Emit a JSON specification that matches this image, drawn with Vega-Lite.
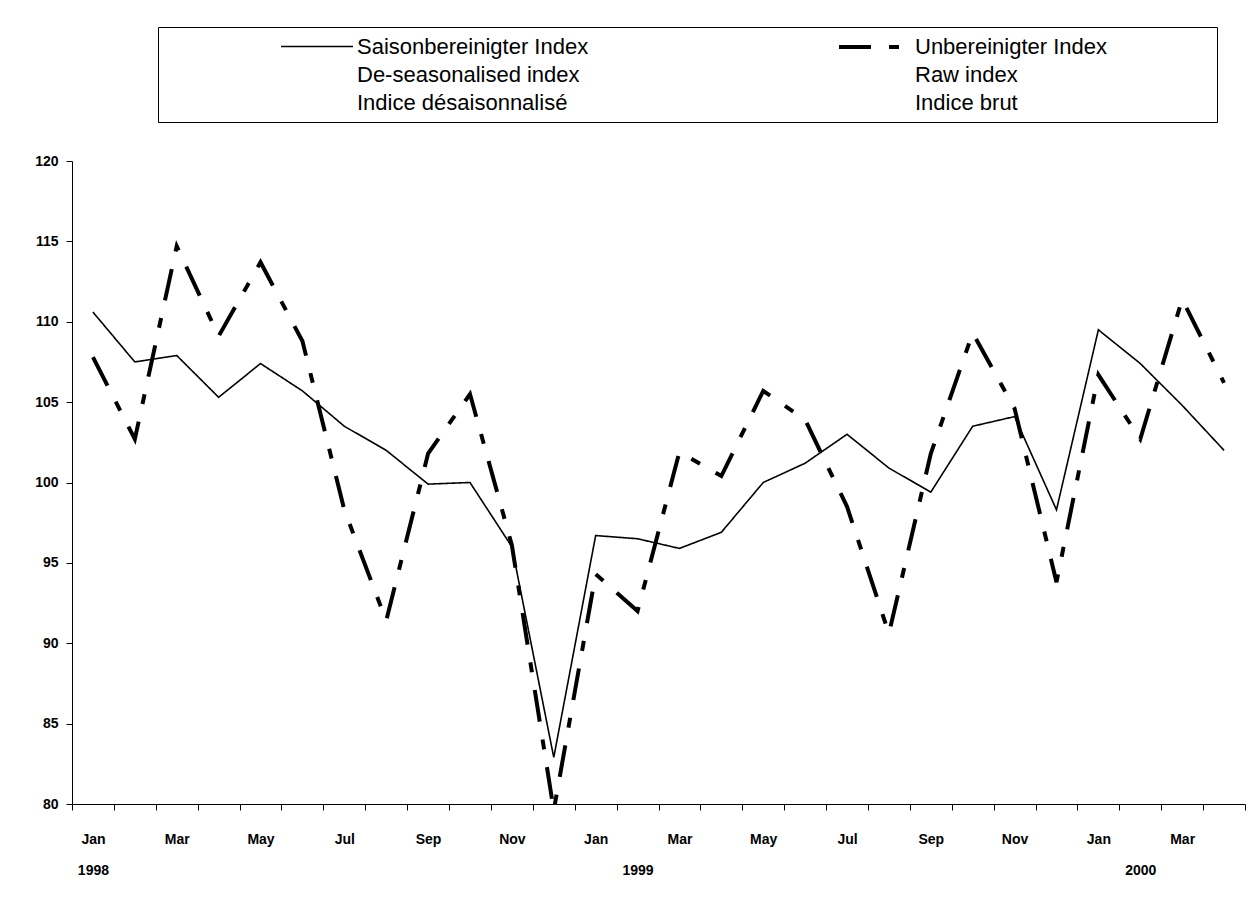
{
  "$schema": "https://vega.github.io/schema/vega-lite/v6.json",
  "width": 1173,
  "height": 643,
  "autosize": {"type": "none"},
  "padding": {"left": 72, "top": 161, "right": 11, "bottom": 104},
  "background": "white",
  "config": {
    "view": {"stroke": null},
    "font": "Liberation Sans",
    "style": {"guide-label": {"lineHeight": 28}}
  },
  "data": {
    "values": [
      {"month": "1998-01", "series": "Saisonbereinigter Index|De-seasonalised index|Indice désaisonnalisé", "value": 110.6},
      {"month": "1998-02", "series": "Saisonbereinigter Index|De-seasonalised index|Indice désaisonnalisé", "value": 107.5},
      {"month": "1998-03", "series": "Saisonbereinigter Index|De-seasonalised index|Indice désaisonnalisé", "value": 107.9},
      {"month": "1998-04", "series": "Saisonbereinigter Index|De-seasonalised index|Indice désaisonnalisé", "value": 105.3},
      {"month": "1998-05", "series": "Saisonbereinigter Index|De-seasonalised index|Indice désaisonnalisé", "value": 107.4},
      {"month": "1998-06", "series": "Saisonbereinigter Index|De-seasonalised index|Indice désaisonnalisé", "value": 105.7},
      {"month": "1998-07", "series": "Saisonbereinigter Index|De-seasonalised index|Indice désaisonnalisé", "value": 103.5},
      {"month": "1998-08", "series": "Saisonbereinigter Index|De-seasonalised index|Indice désaisonnalisé", "value": 102.0},
      {"month": "1998-09", "series": "Saisonbereinigter Index|De-seasonalised index|Indice désaisonnalisé", "value": 99.9},
      {"month": "1998-10", "series": "Saisonbereinigter Index|De-seasonalised index|Indice désaisonnalisé", "value": 100.0},
      {"month": "1998-11", "series": "Saisonbereinigter Index|De-seasonalised index|Indice désaisonnalisé", "value": 96.0},
      {"month": "1998-12", "series": "Saisonbereinigter Index|De-seasonalised index|Indice désaisonnalisé", "value": 82.9},
      {"month": "1999-01", "series": "Saisonbereinigter Index|De-seasonalised index|Indice désaisonnalisé", "value": 96.7},
      {"month": "1999-02", "series": "Saisonbereinigter Index|De-seasonalised index|Indice désaisonnalisé", "value": 96.5},
      {"month": "1999-03", "series": "Saisonbereinigter Index|De-seasonalised index|Indice désaisonnalisé", "value": 95.9},
      {"month": "1999-04", "series": "Saisonbereinigter Index|De-seasonalised index|Indice désaisonnalisé", "value": 96.9},
      {"month": "1999-05", "series": "Saisonbereinigter Index|De-seasonalised index|Indice désaisonnalisé", "value": 100.0},
      {"month": "1999-06", "series": "Saisonbereinigter Index|De-seasonalised index|Indice désaisonnalisé", "value": 101.2},
      {"month": "1999-07", "series": "Saisonbereinigter Index|De-seasonalised index|Indice désaisonnalisé", "value": 103.0},
      {"month": "1999-08", "series": "Saisonbereinigter Index|De-seasonalised index|Indice désaisonnalisé", "value": 100.9},
      {"month": "1999-09", "series": "Saisonbereinigter Index|De-seasonalised index|Indice désaisonnalisé", "value": 99.4},
      {"month": "1999-10", "series": "Saisonbereinigter Index|De-seasonalised index|Indice désaisonnalisé", "value": 103.5},
      {"month": "1999-11", "series": "Saisonbereinigter Index|De-seasonalised index|Indice désaisonnalisé", "value": 104.1},
      {"month": "1999-12", "series": "Saisonbereinigter Index|De-seasonalised index|Indice désaisonnalisé", "value": 98.3},
      {"month": "2000-01", "series": "Saisonbereinigter Index|De-seasonalised index|Indice désaisonnalisé", "value": 109.5},
      {"month": "2000-02", "series": "Saisonbereinigter Index|De-seasonalised index|Indice désaisonnalisé", "value": 107.4},
      {"month": "2000-03", "series": "Saisonbereinigter Index|De-seasonalised index|Indice désaisonnalisé", "value": 104.8},
      {"month": "2000-04", "series": "Saisonbereinigter Index|De-seasonalised index|Indice désaisonnalisé", "value": 102.0},
      {"month": "1998-01", "series": "Unbereinigter Index|Raw index|Indice brut", "value": 107.8},
      {"month": "1998-02", "series": "Unbereinigter Index|Raw index|Indice brut", "value": 102.7},
      {"month": "1998-03", "series": "Unbereinigter Index|Raw index|Indice brut", "value": 114.7},
      {"month": "1998-04", "series": "Unbereinigter Index|Raw index|Indice brut", "value": 109.1},
      {"month": "1998-05", "series": "Unbereinigter Index|Raw index|Indice brut", "value": 113.7},
      {"month": "1998-06", "series": "Unbereinigter Index|Raw index|Indice brut", "value": 108.8},
      {"month": "1998-07", "series": "Unbereinigter Index|Raw index|Indice brut", "value": 98.3},
      {"month": "1998-08", "series": "Unbereinigter Index|Raw index|Indice brut", "value": 91.4},
      {"month": "1998-09", "series": "Unbereinigter Index|Raw index|Indice brut", "value": 101.8},
      {"month": "1998-10", "series": "Unbereinigter Index|Raw index|Indice brut", "value": 105.5},
      {"month": "1998-11", "series": "Unbereinigter Index|Raw index|Indice brut", "value": 96.1},
      {"month": "1998-12", "series": "Unbereinigter Index|Raw index|Indice brut", "value": 79.6},
      {"month": "1999-01", "series": "Unbereinigter Index|Raw index|Indice brut", "value": 94.3},
      {"month": "1999-02", "series": "Unbereinigter Index|Raw index|Indice brut", "value": 92.0},
      {"month": "1999-03", "series": "Unbereinigter Index|Raw index|Indice brut", "value": 101.9},
      {"month": "1999-04", "series": "Unbereinigter Index|Raw index|Indice brut", "value": 100.4},
      {"month": "1999-05", "series": "Unbereinigter Index|Raw index|Indice brut", "value": 105.7},
      {"month": "1999-06", "series": "Unbereinigter Index|Raw index|Indice brut", "value": 103.9},
      {"month": "1999-07", "series": "Unbereinigter Index|Raw index|Indice brut", "value": 98.5},
      {"month": "1999-08", "series": "Unbereinigter Index|Raw index|Indice brut", "value": 90.6},
      {"month": "1999-09", "series": "Unbereinigter Index|Raw index|Indice brut", "value": 101.8},
      {"month": "1999-10", "series": "Unbereinigter Index|Raw index|Indice brut", "value": 109.3},
      {"month": "1999-11", "series": "Unbereinigter Index|Raw index|Indice brut", "value": 104.6},
      {"month": "1999-12", "series": "Unbereinigter Index|Raw index|Indice brut", "value": 93.8},
      {"month": "2000-01", "series": "Unbereinigter Index|Raw index|Indice brut", "value": 106.7},
      {"month": "2000-02", "series": "Unbereinigter Index|Raw index|Indice brut", "value": 102.7},
      {"month": "2000-03", "series": "Unbereinigter Index|Raw index|Indice brut", "value": 111.4},
      {"month": "2000-04", "series": "Unbereinigter Index|Raw index|Indice brut", "value": 106.2}
    ]
  },
  "mark": {"type": "line", "color": "black", "strokeJoin": "miter", "strokeCap": "butt"},
  "encoding": {
    "x": {
      "field": "month",
      "type": "ordinal",
      "sort": null,
      "scale": {"type": "band", "paddingInner": 0, "paddingOuter": 0},
      "axis": {
        "title": null,
        "tickBand": "extent",
        "labelAngle": 0,
        "labelAlign": "center",
        "labelBaseline": "top",
        "labelFontSize": 14,
        "labelFontWeight": "bold",
        "labelColor": "black",
        "labelLineHeight": 31,
        "labelPadding": 22,
        "labelOverlap": false,
        "labelBound": false,
        "labelFlush": false,
        "tickSize": 6,
        "tickColor": "black",
        "domainColor": "black",
        "labelExpr": "split((month(toDate(datum.value + '-15')) % 2 == 0 ? timeFormat(toDate(datum.value + '-15'), '%b') : '') + ((datum.value == '1998-01' || datum.value == '1999-02' || datum.value == '2000-02') ? '|' + slice(datum.value, 0, 4) : ''), '|')"
      }
    },
    "y": {
      "field": "value",
      "type": "quantitative",
      "scale": {"domain": [80, 120], "nice": false, "zero": false},
      "axis": {
        "title": null,
        "values": [80, 85, 90, 95, 100, 105, 110, 115, 120],
        "grid": false,
        "tickSize": 6,
        "tickColor": "black",
        "domainColor": "black",
        "labelPadding": 8,
        "labelFontSize": 14,
        "labelFontWeight": "bold",
        "labelColor": "black"
      }
    },
    "strokeWidth": {
      "field": "series",
      "type": "ordinal",
      "scale": {
        "domain": ["Saisonbereinigter Index|De-seasonalised index|Indice désaisonnalisé", "Unbereinigter Index|Raw index|Indice brut"],
        "range": [1.6, 4]
      }
    },
    "strokeDash": {
      "field": "series",
      "type": "nominal",
      "scale": {
        "domain": ["Saisonbereinigter Index|De-seasonalised index|Indice désaisonnalisé", "Unbereinigter Index|Raw index|Indice brut"],
        "range": [[1, 0], [32, 18, 10, 18]]
      },
      "legend": {
        "orient": "none",
        "legendX": 86,
        "legendY": -134,
        "direction": "horizontal",
        "columns": 2,
        "title": " ",
        "titleOrient": "right",
        "titlePadding": 102,
        "titleFontSize": 10,
        "strokeColor": "black",
        "fillColor": "white",
        "padding": 8,
        "symbolType": "M-4,0H3.2",
        "symbolSize": 400,
        "symbolStrokeColor": "black",
        "symbolOffset": 143,
        "labelOffset": 24,
        "columnPadding": 135,
        "labelFontSize": 22,
        "labelColor": "black",
        "labelLimit": 500,
        "labelExpr": "split(datum.label, '|')"
      }
    }
  }
}
